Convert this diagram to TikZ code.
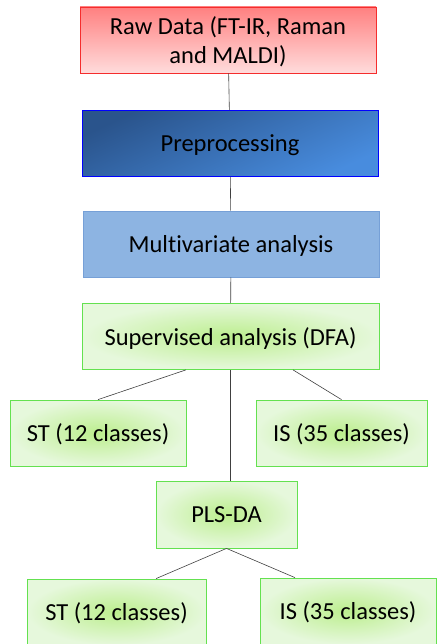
\documentclass[tikz,border=0pt]{standalone}
\usepackage{fontspec}
\setmainfont{Carlito}[Ligatures=NoCommon]
\usepackage{tikz}
\usetikzlibrary{calc}

\definecolor{rawtop}{RGB}{255,128,128}
\definecolor{rawbot}{RGB}{255,220,220}
\definecolor{rawline}{RGB}{245,45,45}
\definecolor{predark}{RGB}{42,84,140}
\definecolor{prelight}{RGB}{72,140,222}
\definecolor{mvfill}{RGB}{141,180,226}
\definecolor{mvline}{RGB}{118,160,215}
\definecolor{grin}{RGB}{188,238,142}
\definecolor{grout}{RGB}{230,248,220}
\definecolor{grline}{RGB}{100,225,80}

\begin{document}
\begin{tikzpicture}[
    x=1pt, y=-1pt,
    font=\fontsize{24.5}{29}\selectfont,
    box/.style={rectangle, draw, line width=0.8pt, align=center, inner sep=3pt,
      minimum width=296pt, minimum height=66pt, text depth=0pt},
    rawbox/.style={box, draw=rawline, top color=rawtop, bottom color=rawbot},
    prebox/.style={box, draw=blue, left color=predark, right color=prelight, shading angle=25},
    mvbox/.style={box, draw=mvline, fill=mvfill},
    grbox/.style={box, draw=grline, inner color=grin, outer color=grout},
    link/.style={draw=black!75, line width=0.6pt},
  ]
  \useasboundingbox (0,0) rectangle (436,644);

  \node[rawbox] (raw)   at (228,40)    {Raw Data (FT-IR, Raman\\and MALDI)};
  \node[prebox] (prep)  at (230,143.5) {Preprocessing};
  \node[mvbox]  (multi) at (231,244)   {Multivariate analysis};
  \node[grbox, minimum width=297pt] (sup) at (230.5,336.5) {Supervised analysis (DFA)};

  \node[grbox, minimum width=176pt] (st)  at (98,433)    {ST (12 classes)};
  \node[grbox, minimum width=171pt] (is)  at (341.5,433) {IS (35 classes)};

  \node[grbox, minimum width=141pt, minimum height=67pt] (pls) at (226.5,514.5) {PLS-DA};

  \node[grbox, minimum width=179pt] (st2) at (116.5,612) {ST (12 classes)};
  \node[grbox, minimum width=176pt] (is2) at (348,611)   {IS (35 classes)};

  \draw[link] (raw) -- (prep);
  \draw[link] (prep) -- (multi);
  \draw[link] (multi) -- (sup);
  \draw[link] (sup.south) -- (sup.south |- pls.north);
  \draw[link] ($(sup.south west)!0.35!(sup.south east)$) -- (st.north);
  \draw[link] ($(sup.south west)!0.71!(sup.south east)$) -- (is.north);
  \draw[link] (pls.south) -- ($(st2.north west)!0.72!(st2.north east)$);
  \draw[link] (pls.south) -- ($(is2.north west)!0.2!(is2.north east)$);
\end{tikzpicture}
\end{document}
